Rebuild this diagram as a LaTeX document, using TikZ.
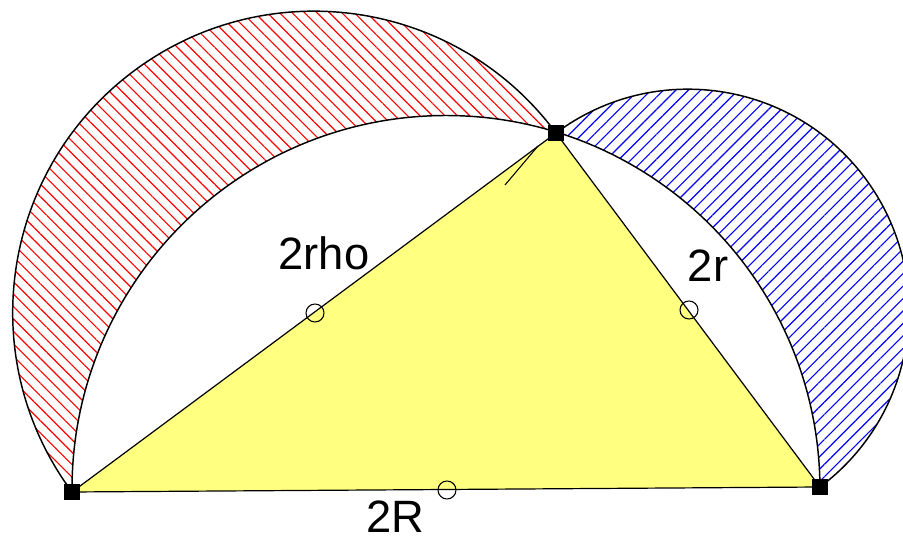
\documentclass[tikz,border=0pt]{standalone}
\usepackage{fontspec}
\setmainfont{Liberation Sans}
\usetikzlibrary{patterns.meta}
\definecolor{triyellow}{RGB}{255,255,128}
\begin{document}
\begin{tikzpicture}[x=0.75pt,y=0.75pt,
  edge/.style={line width=1.1pt,black},
  side/.style={line width=0.9pt,black},
  vertex/.style={fill=black,minimum size=12pt,inner sep=0pt,draw=none},
  mid/.style={circle,draw=black,line width=0.8pt,minimum size=13.5pt,inner sep=0pt},
  lbl/.style={font=\fontsize{34}{40}\selectfont,inner sep=0pt,anchor=base},
  redhatch/.style={pattern={Lines[angle=-45,distance=6.6pt,line width=0.85pt]},pattern color=red},
  bluehatch/.style={pattern={Lines[angle=45,distance=6.6pt,line width=0.85pt]},pattern color=blue}]
\useasboundingbox (0,0) rectangle (903,542);
\clip (0,0) rectangle (903,542);
\coordinate (A) at (72,50);
\coordinate (B) at (820,55);
\coordinate (C) at (556,409);
\coordinate (s1) at (505,357);
\coordinate (s2) at (538,396);
% triangle
\fill[triyellow] (A) -- (B) -- (C) -- cycle;
% lunes
\path[redhatch] (C) arc[start angle=36.564,end angle=216.564,radius=225.98pt]
   arc[start angle=180.383,end angle=72.852,radius=280.5pt] -- cycle;
\path[bluehatch] (C) arc[start angle=126.714,end angle=-53.286,radius=165.6pt]
   arc[start angle=0.383,end angle=72.852,radius=280.5pt] -- cycle;
% outlines
\draw[edge] (C) arc[start angle=36.564,end angle=216.564,radius=225.98pt];
\draw[edge] (C) arc[start angle=126.714,end angle=-53.286,radius=165.6pt];
\draw[edge] (A) arc[start angle=180.383,end angle=0.383,radius=280.5pt];
\draw[side] (A) -- (B) -- (C) -- cycle;
\draw[line width=0.8pt] (s1) -- (s2);
% midpoints
\node[mid] (mAC) at (315,229) {};
\node[mid] (mCB) at (689,232) {};
\node[mid] (mAB) at (447,52) {};
% vertices
\node[vertex] (vA) at (A) {};
\node[vertex] (vB) at (B) {};
\node[vertex] (vC) at (C) {};
% labels
\node[lbl] (lrho) at (324,272) {2rho};
\node[lbl] (lr) at (708,260) {2r};
\node[lbl] (lR) at (395,9) {2R};
\end{tikzpicture}
\end{document}
